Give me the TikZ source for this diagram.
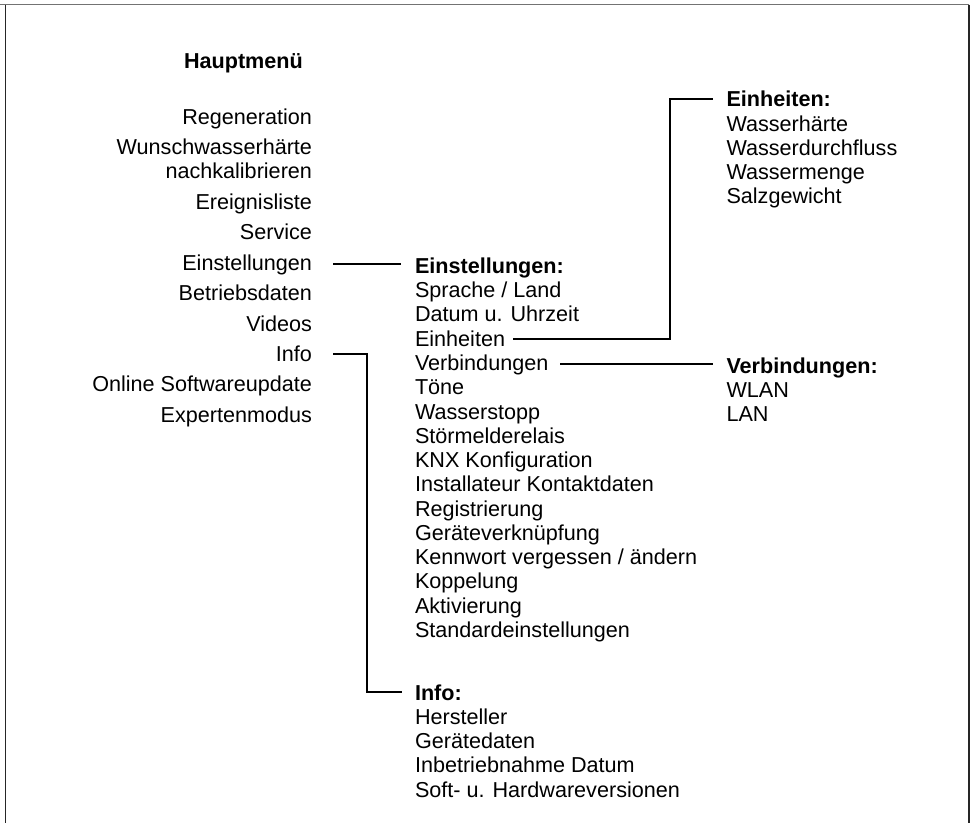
\documentclass[tikz,border=0pt]{standalone}
\usepackage{fontspec}
\setmainfont{Liberation Sans}
\usetikzlibrary{calc}
\tikzset{
  item/.style={inner sep=0pt, outer sep=0pt, font=\fontsize{21.6}{24.3}\selectfont},
  head/.style={item, font=\fontsize{21.6}{24.3}\selectfont\bfseries},
  conn/.style={line width=2pt, line join=miter, black},
  frameside/.style={line width=1.4pt, black!85},
  frametop/.style={line width=1.4pt, black!55}
}
\begin{document}
\begin{tikzpicture}[x=1pt,y=-1pt]
\useasboundingbox (0,0) rectangle (972,823);
% frame
\draw[frametop] (0,4.7) -- (969,4.7);
\draw[frameside] (5.7,4.7) -- (5.7,823);
\draw[frameside] (969,4.7) -- (969,823);

% main menu
\node[head, anchor=base west] (hm) at (184,68) {Hauptmenü};
\node[item, anchor=base east] (m1) at (312,124) {Regeneration};
\node[item, anchor=base east] (m2) at (312,154.5) {Wunschwasserhärte};
\node[item, anchor=base east] (m2b) at (312,178.8) {nachkalibrieren};
\node[item, anchor=base east] (m3) at (312,209) {Ereignisliste};
\node[item, anchor=base east] (m4) at (312,239.5) {Service};
\node[item, anchor=base east] (mEinst) at (312,270) {Einstellungen};
\node[item, anchor=base east] (m6) at (312,300.5) {Betriebsdaten};
\node[item, anchor=base east] (m7) at (312,331) {Videos};
\node[item, anchor=base east] (mInfo) at (312,361) {Info};
\node[item, anchor=base east] (m9) at (312,391.5) {Online Softwareupdate};
\node[item, anchor=base east] (m10) at (312,422) {Expertenmodus};

% Einstellungen submenu
\node[head, anchor=base west] (sH) at (415,273.4) {Einstellungen:};
\foreach \t [count=\i] in {Sprache / Land, Datum u. Uhrzeit, Einheiten, Verbindungen, Töne, Wasserstopp, Störmelderelais, KNX Konfiguration, Installateur Kontaktdaten, Registrierung, Geräteverknüpfung, Kennwort vergessen / ändern, Koppelung, Aktivierung, Standardeinstellungen}
  \node[item, anchor=base west] (s\i) at (415,{273.4+24.27*\i}) {\t};

% Einheiten submenu
\node[head, anchor=base west] (uH) at (726.5,106.7) {Einheiten:};
\foreach \t [count=\i] in {Wasserhärte, Wasserdurchfluss, Wassermenge, Salzgewicht}
  \node[item, anchor=base west] (u\i) at (726.5,{106.7+24.3*\i}) {\t};

% Verbindungen submenu
\node[head, anchor=base west] (vH) at (726.5,373.3) {Verbindungen:};
\foreach \t [count=\i] in {WLAN, LAN}
  \node[item, anchor=base west] (v\i) at (726.5,{373.3+24.3*\i}) {\t};

% Info submenu
\node[head, anchor=base west] (iH) at (415,700) {Info:};
\foreach \t [count=\i] in {Hersteller, Gerätedaten, Inbetriebnahme Datum, Soft- u. Hardwareversionen}
  \node[item, anchor=base west] (i\i) at (415,{700+24.3*\i}) {\t};

% connectors
\coordinate (c1s) at ($(mEinst.base east)+(21,-6.2)$);
\coordinate (c1t) at ($(sH.base west)+(-14,0)$);
\draw[conn] (c1s) -- (c1s -| c1t);

\coordinate (c2s) at ($(s3.base east)+(8,-7.2)$);
\coordinate (c2v) at ($(uH.base west)+(-57,0)$);
\coordinate (c2t) at ($(uH.base west)+(-13.5,-7.5)$);
\draw[conn] (c2s) -- (c2s -| c2v) |- (c2t);

\coordinate (c3s) at ($(s4.base east)+(12,-6.8)$);
\coordinate (c3t) at ($(vH.base west)+(-13.5,0)$);
\draw[conn] (c3s) -- (c3s -| c3t);

\coordinate (c4s) at ($(mInfo.base east)+(21,-6.7)$);
\coordinate (c4v) at ($(iH.base west)+(-48.5,0)$);
\coordinate (c4t) at ($(iH.base west)+(-13,-8)$);
\draw[conn] (c4s) -- (c4s -| c4v) |- (c4t);
\end{tikzpicture}
\end{document}
